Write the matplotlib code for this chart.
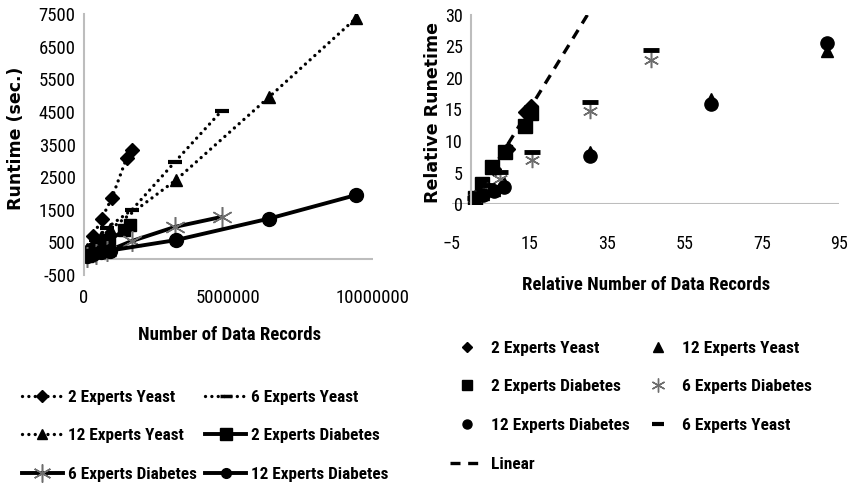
import os
import matplotlib
matplotlib.use('Agg')
import matplotlib.pyplot as plt
from matplotlib.lines import Line2D
from matplotlib import font_manager as fm
from matplotlib.font_manager import FontProperties

# ---------------- data: left chart (absolute) ----------------
rec_2y = [100000, 320000, 610000, 960000, 1480000, 1650000]
run_2y = [250, 700, 1230, 1850, 3100, 3330]
rec_6y = [100000, 400000, 800000, 1650000, 3150000, 4760000]
run_6y = [190, 560, 950, 1490, 2970, 4530]
rec_12y = [100000, 300000, 600000, 900000, 3180000, 6410000, 9410000]
run_12y = [300, 480, 660, 900, 2410, 4960, 7370]
rec_2d = [100000, 270000, 540000, 880000, 1400000, 1580000]
run_2d = [70, 225, 405, 575, 870, 1030]
rec_6d = [100000, 400000, 800000, 1650000, 3150000, 4760000]
run_6d = [55, 130, 230, 540, 975, 1280]
rec_12d = [100000, 300000, 600000, 900000, 3180000, 6410000, 9410000]
run_12d = [90, 150, 200, 250, 570, 1230, 1950]

left_yticks = [-500, 500, 1500, 2500, 3500, 4500, 5500, 6500, 7500]
left_xticks = [0, 5000000, 10000000]

# ---------------- data: right chart (relative) ----------------
rx_2y = [1, 3, 6, 9.5, 14, 15.5]
ry_2y = [1.1, 3.2, 5.6, 8.8, 14.6, 15.6]
rx_12y = [1, 3, 6, 8.6, 30.8, 62, 91.7]
ry_12y = [1, 1.6, 2.2, 3.4, 8.3, 16.6, 24.3]
rx_2d = [1, 2.7, 5.3, 8.7, 13.8, 15.5]
ry_2d = [1, 3.2, 5.8, 8.2, 12.4, 14.5]
rx_6d = [1, 4, 7.5, 15.8, 30.7, 46.3]
ry_6d = [1, 2.3, 4.0, 7.0, 14.8, 22.9]
rx_12d = [1, 3, 6, 8.6, 30.8, 62, 91.7]
ry_12d = [1, 1.4, 2.0, 2.7, 7.6, 15.8, 25.5]
rx_6y = [1, 4, 7.5, 15.8, 30.7, 46.5]
ry_6y = [1, 3.0, 5.1, 8.2, 16.2, 24.5]
lin_x = [0, 30]
lin_y = [0, 30]

right_xticks = [-5, 15, 35, 55, 75, 95]
right_yticks = [0, 5, 10, 15, 20, 25, 30]

labels = ['2 Experts Yeast', '6 Experts Yeast', '12 Experts Yeast',
          '2 Experts Diabetes', '6 Experts Diabetes', '12 Experts Diabetes']

# ---------------- fonts: look for a condensed face ----------------
files = set(f.fname for f in fm.fontManager.ttflist)
try:
    files |= set(fm.findSystemFonts())
except Exception:
    pass
byname = {os.path.basename(p).lower(): p for p in files}

def pick(cands):
    for c in cands:
        if c.lower() in byname:
            return byname[c.lower()]
    return None

cond_bold = pick(['LiberationSansNarrow-Bold.ttf', 'RobotoCondensed-Bold.ttf',
                  'OpenSans_Condensed-Bold.ttf', 'OpenSans-CondBold.ttf',
                  'DejaVuSansCondensed-Bold.ttf', 'NotoSans-CondensedBold.ttf',
                  'NotoSansDisplay-CondensedBold.ttf'])
cond_reg = pick(['LiberationSansNarrow-Regular.ttf', 'RobotoCondensed-Regular.ttf',
                 'OpenSans_Condensed-Regular.ttf', 'OpenSans-CondLight.ttf',
                 'DejaVuSansCondensed.ttf', 'NotoSans-Condensed.ttf',
                 'NotoSansDisplay-Condensed.ttf'])
SCALE = 1.0
if cond_bold is None or cond_reg is None:
    SCALE = 0.80

def fp_bold(size):
    if cond_bold:
        return FontProperties(fname=cond_bold, size=size)
    return FontProperties(family='Liberation Sans', weight='bold', size=size * SCALE)

def fp_reg(size):
    if cond_reg:
        return FontProperties(fname=cond_reg, size=size)
    return FontProperties(family='Liberation Sans', size=size * SCALE)

# ---------------- figure ----------------
W, H = 851, 486
fig = plt.figure(figsize=(W / 100, H / 100), dpi=100)

def box(l, t, r, b):
    return [l / W, 1 - b / H, (r - l) / W, (b - t) / H]

AX_GRAY = '#bdbdbd'
STAR_GRAY = '#6e6e6e'

# ---- left axes ----
axL = fig.add_axes(box(84, 14, 373, 275))
dotted = dict(color='black', lw=2.4, linestyle=(0, (0.01, 1.9)), dash_capstyle='round')
solid = dict(color='black', lw=2.8, linestyle='-')

axL.plot(rec_2y, run_2y, marker='D', ms=7.5, mfc='black', mec='black', **dotted)
axL.plot(rec_6y, run_6y, marker='_', ms=10, mew=3, mec='black', **dotted)
axL.plot(rec_12y, run_12y, marker='^', ms=9, mfc='black', mec='black', **dotted)
axL.plot(rec_2d, run_2d, marker='s', ms=9, mfc='black', mec='black', **solid)
axL.plot(rec_6d, run_6d, marker=(6, 2, 0), ms=15, mew=1.1, mec=STAR_GRAY, **solid)
axL.plot(rec_12d, run_12d, marker='o', ms=10, mfc='black', mec='black', **solid)

axL.set_xlim(0, 10000000)
axL.set_ylim(-500, 7500)
axL.set_xticks(left_xticks)
axL.set_xticklabels([str(v) for v in left_xticks])
axL.set_yticks(left_yticks)
axL.set_yticklabels([str(v) for v in left_yticks])
for s in ['top', 'right', 'bottom']:
    axL.spines[s].set_visible(False)
axL.spines['left'].set_color(AX_GRAY)
axL.spines['left'].set_linewidth(1.5)
axL.axhline(0, color=AX_GRAY, lw=1.5, zorder=0)
axL.tick_params(axis='both', length=0)
axL.tick_params(axis='x', pad=10)
axL.tick_params(axis='y', pad=6)
for t in axL.get_xticklabels() + axL.get_yticklabels():
    t.set_fontproperties(fp_reg(13.5))

# ---- right axes ----
axR = fig.add_axes(box(451.7, 15, 839.3, 204))
axR.plot(rx_2y, ry_2y, linestyle='none', marker='D', ms=7.5, color='black')
axR.plot(rx_12y, ry_12y, linestyle='none', marker='^', ms=9, color='black')
axR.plot(rx_2d, ry_2d, linestyle='none', marker='s', ms=10, color='black')
axR.plot(rx_6d, ry_6d, linestyle='none', marker=(6, 2, 0), ms=11, mew=1.1, color=STAR_GRAY)
axR.plot(rx_12d, ry_12d, linestyle='none', marker='o', ms=9.5, color='black')
axR.plot(rx_6y, ry_6y, linestyle='none', marker='_', ms=12, mew=3.5, color='black')
axR.plot(lin_x, lin_y, color='black', lw=2.4, linestyle=(0, (3, 2.3)))

axR.set_xlim(-5, 95)
axR.set_ylim(0, 30)
axR.set_xticks(right_xticks)
axR.set_yticks(right_yticks)
for s in ['top', 'right', 'bottom']:
    axR.spines[s].set_visible(False)
axR.spines['left'].set_position(('data', 0))
axR.spines['left'].set_color(AX_GRAY)
axR.spines['left'].set_linewidth(1.5)
axR.axhline(0, color=AX_GRAY, lw=1.5, zorder=0)
axR.tick_params(axis='both', length=0)
axR.tick_params(axis='x', pad=22)
axR.tick_params(axis='y', pad=6)
for t in axR.get_xticklabels() + axR.get_yticklabels():
    t.set_fontproperties(fp_reg(13))

# ---- axis titles ----
fig.text(16 / W, 1 - 138 / H, 'Runtime (sec.)', rotation=90, ha='center', va='center',
         fontsize=12.5, fontweight='bold', family='DejaVu Sans')
fig.text(433 / W, 1 - 112 / H, 'Relative Runetime', rotation=90, ha='center', va='center',
         fontsize=12.5, fontweight='bold', family='DejaVu Sans')
fig.text(229 / W, 1 - 335 / H, 'Number of Data Records', ha='center', va='center',
         fontproperties=fp_bold(13.5))
fig.text(646 / W, 1 - 285 / H, 'Relative Number of Data Records', ha='center', va='center',
         fontproperties=fp_bold(13.5))

# ---- left legend ----
hL = [
    Line2D([], [], marker='D', ms=6, mfc='black', mec='black', **dotted),
    Line2D([], [], marker='^', ms=7, mfc='black', mec='black', **dotted),
    Line2D([], [], marker=(6, 2, 0), ms=13, mew=1.1, mec=STAR_GRAY, **solid),
    Line2D([], [], marker='_', ms=8, mew=2.5, mec='black', **dotted),
    Line2D([], [], marker='s', ms=8, mfc='black', mec='black', **solid),
    Line2D([], [], marker='o', ms=7, mfc='black', mec='black', **solid),
]
lL = [labels[0], labels[2], labels[4], labels[1], labels[3], labels[5]]
fig.legend(hL, lL, ncol=2, loc='upper left', bbox_to_anchor=(13 / W, 1 - 381 / H),
           frameon=False, borderpad=0, handlelength=2.4, handletextpad=0.3,
           columnspacing=0.5, labelspacing=1.4, prop=fp_bold(12.3))

# ---- right legend ----
hR = [
    Line2D([], [], linestyle='none', marker='D', ms=5.5, color='black'),
    Line2D([], [], linestyle='none', marker='s', ms=7, color='black'),
    Line2D([], [], linestyle='none', marker='o', ms=6.5, color='black'),
    Line2D([], [], color='black', lw=2.4, linestyle=(0, (3, 2.3))),
    Line2D([], [], linestyle='none', marker='^', ms=7, color='black'),
    Line2D([], [], linestyle='none', marker=(6, 2, 0), ms=10, mew=1, color=STAR_GRAY),
    Line2D([], [], linestyle='none', marker='_', ms=8, mew=3, color='black'),
]
lR = [labels[0], labels[3], labels[5], 'Linear', labels[2], labels[4], labels[1]]
fig.legend(hR, lR, ncol=2, loc='upper left', bbox_to_anchor=(441 / W, 1 - 332 / H),
           frameon=False, borderpad=0, handlelength=2.0, handletextpad=0.4,
           columnspacing=0.6, labelspacing=1.35, prop=fp_bold(12.5))

fig.savefig('out.png', dpi=100)
